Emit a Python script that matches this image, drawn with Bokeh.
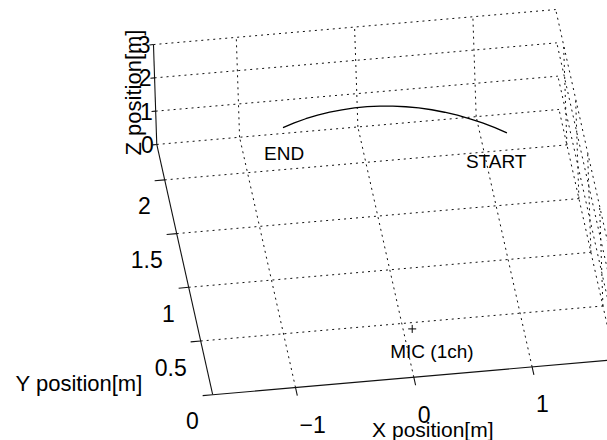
import numpy as np
from bokeh.plotting import figure
from bokeh.models import Range1d
from bokeh.embed import file_html
from bokeh.resources import INLINE
from bokeh.core.properties import value

# ---- room box and ticks (metres) ----
x_lim = (-1.7, 1.7)
y_lim = (0.0, 2.33)
z_lim = (0.0, 3.0)
x_ticks = [-1, 0, 1]
y_ticks = [0, 0.5, 1, 1.5, 2]
z_ticks = [0, 1, 2, 3]
x_tick_labels = ["\u22121", "0", "1"]
y_tick_labels = ["0", "0.5", "1", "1.5", "2"]
z_tick_labels = ["0", "1", "2", "3"]

# ---- sound-source trajectory, from START to END ----
traj_x = [1.146, 1.056, 0.962, 0.866, 0.768, 0.667, 0.565, 0.461, 0.356, 0.250,
          0.143, 0.036, -0.072, -0.179, -0.285, -0.391, -0.496, -0.599, -0.701]
traj_y = [1.700, 1.757, 1.810, 1.858, 1.901, 1.938, 1.971, 1.998, 2.019, 2.035,
          2.045, 2.050, 2.049, 2.042, 2.030, 2.012, 1.989, 1.960, 1.926]
traj_z = [1.5, 1.5, 1.5, 1.5, 1.5, 1.5, 1.5, 1.5, 1.5, 1.5,
          1.5, 1.5, 1.5, 1.5, 1.5, 1.5, 1.5, 1.5, 1.5]

# ---- microphone ----
mic_x = [0.0]
mic_y = [0.0]
mic_z = [1.45]

W, H = 607, 440

# fixed orthographic camera: screen displacement of one metre along each axis
ORIGIN = (413.3, 63.3)
EX = (118.3, 10.3)
EY = (-24.0, 107.4)
EZ = (-1.1, 33.3)


def project(x, y, z):
    x = np.asarray(x, dtype=float)
    y = np.asarray(y, dtype=float)
    z = np.asarray(z, dtype=float)
    u = ORIGIN[0] + EX[0] * x + EY[0] * y + EZ[0] * z
    v = ORIGIN[1] + EX[1] * x + EY[1] * y + EZ[1] * z
    return u, v


def segment(p0, p1):
    u, v = project([p0[0], p1[0]], [p0[1], p1[1]], [p0[2], p1[2]])
    return list(u), list(v)


xmin, xmax = x_lim
ymin, ymax = y_lim
zmin, zmax = z_lim

p = figure(width=W, height=H, x_range=Range1d(0, W), y_range=Range1d(0, H),
           output_backend="svg", toolbar_location=None, min_border=0,
           background_fill_color="white", border_fill_color="white")
p.axis.visible = False
p.grid.visible = False
p.outline_line_color = None

# ---- dotted grid on floor, back wall and right wall ----
segs = []
for xv in x_ticks:
    segs.append(segment((xv, ymin, zmin), (xv, ymax, zmin)))   # floor
    segs.append(segment((xv, ymax, zmin), (xv, ymax, zmax)))   # back wall
for yv in y_ticks:
    if yv != ymin:
        segs.append(segment((xmin, yv, zmin), (xmax, yv, zmin)))  # floor
    segs.append(segment((xmax, yv, zmin), (xmax, yv, zmax)))      # right wall
for zv in z_ticks:
    segs.append(segment((xmin, ymax, zv), (xmax, ymax, zv)))   # back wall
    segs.append(segment((xmax, ymin, zv), (xmax, ymax, zv)))   # right wall
p.multi_line([s[0] for s in segs], [s[1] for s in segs],
             line_color="#111111", line_width=1, line_dash="2 4")

# ---- axis lines and tick marks ----
axes = [
    segment((xmin, ymin, zmin), (xmax, ymin, zmin)),
    segment((xmin, ymin, zmin), (xmin, ymax, zmin)),
    segment((xmin, ymax, zmin), (xmin, ymax, zmax)),
]
for xv in x_ticks:
    axes.append(segment((xv, ymin, zmin), (xv, ymin - 0.075, zmin)))
for yv in y_ticks:
    axes.append(segment((xmin, yv, zmin), (xmin - 0.085, yv, zmin)))
for zv in z_ticks:
    axes.append(segment((xmin, ymax, zv), (xmin - 0.035, ymax, zv)))
p.multi_line([s[0] for s in axes], [s[1] for s in axes],
             line_color="#111111", line_width=1.1)

FONT = value("Liberation Sans")

# ---- tick labels ----
u, v = project(x_ticks, [ymin] * len(x_ticks), [zmin] * len(x_ticks))
p.text(u, v, text=x_tick_labels, text_font=FONT, text_font_size="23px",
       text_align="left", text_baseline="alphabetic", x_offset=4, y_offset=37,
       text_color="black")
u, v = project([xmin] * len(y_ticks), y_ticks, [zmin] * len(y_ticks))
p.text(u, v, text=y_tick_labels, text_font=FONT, text_font_size="23px",
       text_align="right", text_baseline="alphabetic", x_offset=-14, y_offset=26,
       text_color="black")
u, v = project([xmin] * len(z_ticks), [ymax] * len(z_ticks), z_ticks)
p.text(u, v, text=z_tick_labels, text_font=FONT, text_font_size="23px",
       text_align="right", text_baseline="alphabetic", x_offset=-3, y_offset=0,
       text_color="black")

# ---- axis titles ----
u, v = project([0.0], [ymin], [zmin])
p.text(u, v, text=["X position[m]"], text_font=FONT, text_font_size="21px",
       text_align="center", text_baseline="alphabetic", x_offset=19, y_offset=52,
       text_color="black")
u, v = project([xmin], [ymin], [zmin])
p.text(u, v, text=["Y position[m]"], text_font=FONT, text_font_size="22px",
       text_align="right", text_baseline="alphabetic", x_offset=-70, y_offset=-11,
       text_color="black")
u, v = project([xmin], [ymax], [(zmin + zmax) / 2])
p.text(u, v, text=["Z position[m]"], text_font=FONT, text_font_size="22px",
       text_align="center", text_baseline="alphabetic", angle=np.pi / 2,
       x_offset=-22, y_offset=-2, text_color="black")

# ---- trajectory ----
tu, tv = project(traj_x, traj_y, traj_z)
p.line(tu, tv, line_color="black", line_width=1.3)
p.text([tu[0]], [tv[0]], text=["START"], text_font=FONT, text_font_size="19px",
       text_align="left", text_baseline="alphabetic", x_offset=-41, y_offset=29,
       text_color="black")
p.text([tu[-1]], [tv[-1]], text=["END"], text_font=FONT, text_font_size="19px",
       text_align="left", text_baseline="alphabetic", x_offset=-19, y_offset=26,
       text_color="black")

# ---- microphone ----
mu, mv = project(mic_x, mic_y, mic_z)
p.scatter(mu, mv, marker="cross", size=8, line_color="black", line_width=1)
p.text(mu, mv, text=["MIC (1ch)"], text_font=FONT, text_font_size="19px",
       text_align="left", text_baseline="alphabetic", x_offset=-22, y_offset=23,
       text_color="black")

open("out.html", "w").write(file_html(p, INLINE))
